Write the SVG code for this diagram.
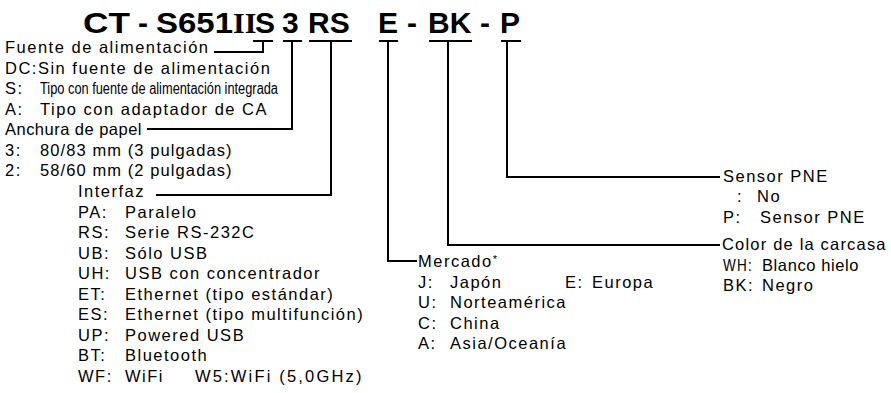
<svg xmlns="http://www.w3.org/2000/svg" width="891" height="393" viewBox="0 0 891 393">
<style>
.t{font-family:"Liberation Sans",Arial,Helvetica,sans-serif;font-size:16.5px;letter-spacing:1.5px;fill:#000}
.n{font-family:"Liberation Sans",Arial,sans-serif;font-size:16px;fill:#000}
.h{font-family:"Liberation Sans",Arial,sans-serif;font-size:30px;font-weight:bold;fill:#000}
.r{font-family:"Liberation Serif","Times New Roman",serif;font-size:30px;font-weight:bold;fill:#000}
.ln{stroke:#000;stroke-width:2;fill:none}
</style>
<rect width="891" height="393" fill="#fff"/>
<g id="title">
<text class="h" x="83" y="33" textLength="47" lengthAdjust="spacingAndGlyphs">CT</text>
<text class="h" x="138" y="33">-</text>
<text class="h" x="156" y="33" textLength="77" lengthAdjust="spacingAndGlyphs">S651</text>
<text class="r" x="233" y="33">II</text>
<text class="h" x="255" y="33">S</text>
<text class="h" x="282" y="33">3</text>
<text class="h" x="308" y="33">RS</text>
<text class="h" x="378" y="33">E</text>
<text class="h" x="407" y="33">-</text>
<text class="h" x="428" y="33">BK</text>
<text class="h" x="480" y="33">-</text>
<text class="h" x="500" y="33">P</text>
</g>
<g id="connectors">
<path class="ln" d="M253,41H273M263,41V52H214"/>
<path class="ln" d="M283,41H302M292,41V129H147"/>
<path class="ln" d="M309,41H352M331,41V195H156"/>
<path class="ln" d="M379,41H398M388,41V261H417"/>
<path class="ln" d="M429,41H472M448,41V245H720"/>
<path class="ln" d="M501,41H521M507,41V177H720"/>
</g>
<g id="fuente">
<text class="t" x="5" y="53">Fuente de alimentación</text>
<text class="t" x="5" y="74">DC:Sin fuente de alimentación</text>
<text class="t" x="5" y="94">S:</text>
<text class="n" x="40" y="94" textLength="238" lengthAdjust="spacingAndGlyphs">Tipo con fuente de alimentación integrada</text>
<text class="t" x="5" y="115">A:</text>
<text class="t" x="40" y="115">Tipo con adaptador de CA</text>
</g>
<g id="anchura">
<text class="t" x="5" y="135" textLength="138">Anchura de papel</text>
<text class="t" x="5" y="156">3:</text>
<text class="t" x="40" y="156" textLength="193">80/83 mm (3 pulgadas)</text>
<text class="t" x="5" y="176">2:</text>
<text class="t" x="40" y="176" textLength="193">58/60 mm (2 pulgadas)</text>
</g>
<g id="interfaz">
<text class="t" x="78" y="197">Interfaz</text>
<text class="t" x="78" y="218">PA:</text><text class="t" x="125" y="218">Paralelo</text>
<text class="t" x="78" y="238">RS:</text><text class="t" x="125" y="238">Serie RS-232C</text>
<text class="t" x="78" y="259">UB:</text><text class="t" x="125" y="259">Sólo USB</text>
<text class="t" x="78" y="279">UH:</text><text class="t" x="125" y="279">USB con concentrador</text>
<text class="t" x="78" y="300">ET:</text><text class="t" x="125" y="300">Ethernet (tipo estándar)</text>
<text class="t" x="78" y="320">ES:</text><text class="t" x="125" y="320">Ethernet (tipo multifunción)</text>
<text class="t" x="78" y="341">UP:</text><text class="t" x="125" y="341">Powered USB</text>
<text class="t" x="78" y="361">BT:</text><text class="t" x="125" y="361">Bluetooth</text>
<text class="t" x="78" y="382">WF:</text><text class="t" x="125" y="382">WiFi</text><text class="t" x="195" y="382" textLength="168">W5:WiFi (5,0GHz)</text>
</g>
<g id="mercado">
<text class="t" x="418" y="267">Mercado<tspan font-size="11" dy="-4">*</tspan></text>
<text class="t" x="418" y="288">J:</text><text class="t" x="450" y="288">Japón</text>
<text class="t" x="565" y="288">E:</text><text class="t" x="592" y="288">Europa</text>
<text class="t" x="418" y="308">U:</text><text class="t" x="450" y="308">Norteamérica</text>
<text class="t" x="418" y="329">C:</text><text class="t" x="450" y="329">China</text>
<text class="t" x="418" y="349">A:</text><text class="t" x="450" y="349">Asia/Oceanía</text>
</g>
<g id="sensor">
<text class="t" x="723" y="182">Sensor PNE</text>
<text class="t" x="737" y="202">:</text><text class="t" x="757" y="202">No</text>
<text class="t" x="723" y="223">P:</text><text class="t" x="760" y="223">Sensor PNE</text>
</g>
<g id="color">
<text class="t" x="722" y="250" textLength="165">Color de la carcasa</text>
<text class="t" x="723" y="271" textLength="30" lengthAdjust="spacingAndGlyphs">WH:</text><text class="t" x="762" y="271" textLength="98">Blanco hielo</text>
<text class="t" x="723" y="291">BK:</text><text class="t" x="762" y="291">Negro</text>
</g>
</svg>
